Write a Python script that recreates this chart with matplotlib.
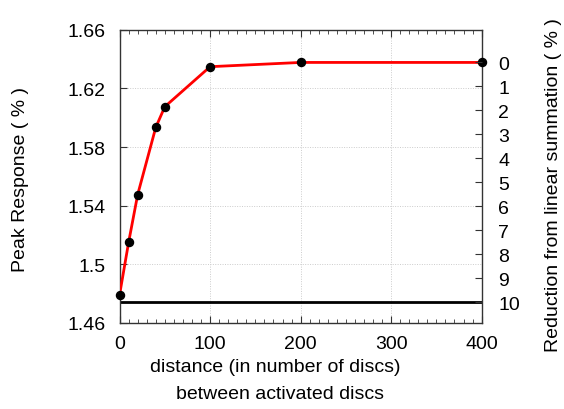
import matplotlib
matplotlib.use("Agg")
import matplotlib.pyplot as plt
from matplotlib.ticker import MultipleLocator, FixedLocator
import numpy as np

plt.rcParams['font.family'] = ['Liberation Sans', 'DejaVu Sans']

distance = [0, 10, 20, 40, 50, 100, 200, 400]
peak = [1.4791, 1.5150, 1.5475, 1.5934, 1.6075, 1.6348, 1.6377, 1.6377]
linear_max = 1.6377
reduction_line = 10  # percent
right_ticks = list(range(0, 11))
left_ticks = [1.46, 1.50, 1.54, 1.58, 1.62, 1.66]
left_labels = ['1.46', '1.5', '1.54', '1.58', '1.62', '1.66']
x_ticks = [0, 100, 200, 300, 400]

FS = 14

fig = plt.figure(figsize=(5.64, 4.10), dpi=100)
ax = fig.add_axes([0.212, 0.21, 0.642, 0.715])

ax.axhline(linear_max * (1 - reduction_line / 100), color='black', lw=2, zorder=2)
ax.plot(distance, peak, color='#ff0000', lw=2, zorder=3)
ax.plot(distance, peak, 'o', color='black', ms=5.8, zorder=4, clip_on=False)

ax.set_xlim(0, 400)
ax.set_ylim(1.46, 1.66)
ax.set_xticks(x_ticks)
ax.xaxis.set_minor_locator(MultipleLocator(10))
ax.set_yticks(left_ticks)
ax.set_yticklabels(left_labels)
ax.grid(True, which='major', color='#cccccc', linestyle=(0, (1, 1.5)), lw=0.7)
ax.tick_params(axis='both', which='both', direction='in', labelsize=FS, color='#333333')
ax.tick_params(axis='x', which='major', length=5, top=True, pad=9)
ax.tick_params(axis='x', which='minor', length=3, top=True)
ax.tick_params(axis='y', which='major', length=5, right=True, pad=10)
for s in ax.spines.values():
    s.set_color('#333333')
    s.set_linewidth(1)

ax2 = ax.twinx()
def to_red(y):
    return (1 - y / linear_max) * 100
ax2.set_ylim(to_red(1.46), to_red(1.66))
ax2.yaxis.set_major_locator(FixedLocator(right_ticks))
ax2.tick_params(axis='y', direction='in', length=5, labelsize=FS, pad=12, color='#333333')
for s in ax2.spines.values():
    s.set_visible(False)

fig.text(0.036, 1 - 272 / 410, 'Peak Response ( % )', rotation=90, ha='center', va='bottom', fontsize=FS)
fig.text(0.982, 1 - 352 / 410, 'Reduction from linear summation ( % )', rotation=90, ha='center', va='bottom', fontsize=FS)
fig.text(275 / 564, 1 - 368 / 410, 'distance (in number of discs)', ha='center', va='center', fontsize=FS)
fig.text(280 / 564, 1 - 395 / 410, 'between activated discs', ha='center', va='center', fontsize=FS)

fig.savefig('out.png', dpi=100)
